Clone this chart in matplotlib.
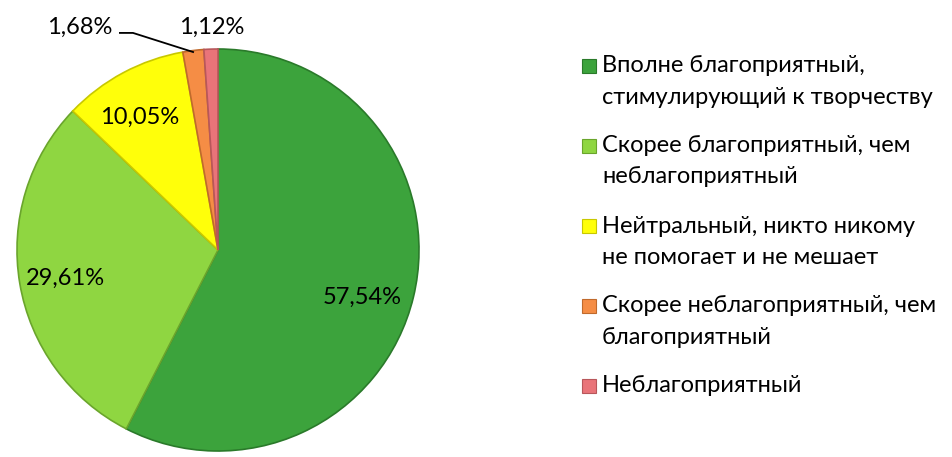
import matplotlib.pyplot as plt
from matplotlib.patches import Rectangle

plt.rcParams['font.family'] = ['Lato', 'DejaVu Sans']

# data
categories = ['Вполне благоприятный,\nстимулирующий к творчеству',
              'Скорее благоприятный, чем\nнеблагоприятный',
              'Нейтральный, никто никому\nне помогает и не мешает',
              'Скорее неблагоприятный, чем\nблагоприятный',
              'Неблагоприятный']
shares = [57.54, 29.61, 10.05, 1.68, 1.12]
colors = ['#3ca33c', '#8fd641', '#ffff0a', '#f58d45', '#e97479']
edges = ['#2a7a2a', '#6aa52c', '#c8c800', '#c06a2c', '#b8575b']

W, H = 953, 457
fig = plt.figure(figsize=(W / 100, H / 100), dpi=100)

# pie axes: centre ~ (218, 250) px, radius ~ 201 px
cx, cy, r = 218, 250, 201
ax = fig.add_axes([(cx - r) / W, (H - cy - r) / H, 2 * r / W, 2 * r / H])
wedges, _ = ax.pie(shares, colors=colors, startangle=90, counterclock=False,
                   radius=1, wedgeprops={'linewidth': 1.2})
for w, ec in zip(wedges, edges):
    w.set_edgecolor(ec)
ax.set_xlim(-1, 1)
ax.set_ylim(-1, 1)
ax.set_aspect('equal')
ax.axis('off')

labels = [f'{v:.2f}%'.replace('.', ',') for v in shares]
# label positions in data coords (inside for the big ones, outside for the small ones)
pos = [(0.716, -0.234), (-0.761, -0.139), (-0.388, 0.662), (-0.687, 1.109), (-0.03, 1.109)]
for lab, (x, y) in zip(labels, pos):
    ax.text(x, y, lab, ha='center', va='center', fontsize=17, clip_on=False)

# leader line for 1,68%
ax.plot([-0.488, -0.423, -0.124], [1.080, 1.080, 0.985], color='black', lw=1.3, clip_on=False)

# legend drawn by hand so the square sits on the first line of each entry
line_h = 31
y = 66
for lab, c, e in zip(categories, colors, edges):
    fig.patches.append(Rectangle((582 / W, 1 - (y + 7) / H), 14 / W, 14 / H,
                                 facecolor=c, edgecolor=e, linewidth=0.8,
                                 transform=fig.transFigure))
    lines = lab.split('\n')
    for i, txt in enumerate(lines):
        fig.text(602 / W, 1 - (y + i * line_h) / H, txt, ha='left', va='center',
                 fontsize=17, transform=fig.transFigure)
    y += line_h * (len(lines) - 1) + 49
plt.savefig('out.png', dpi=100)
